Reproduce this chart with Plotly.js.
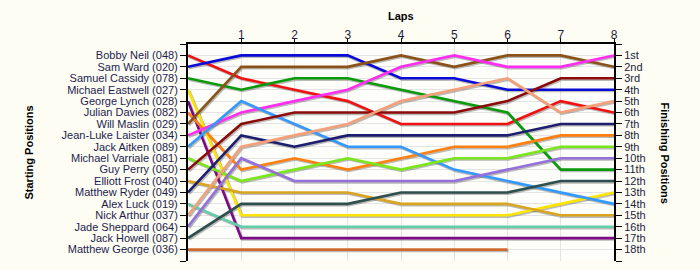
<!DOCTYPE html>
<html>
<head>
<meta charset="utf-8">
<script src="https://cdn.plot.ly/plotly-3.0.1.min.js"></script>
<style>
  html, body { margin: 0; padding: 0; background: #fdfdf3; }
  #chart { width: 700px; height: 270px; }
</style>
</head>
<body>
<div id="chart"></div>
<script>
// Lap numbers (0 = grid / starting position)
const laps = [0, 1, 2, 3, 4, 5, 6, 7, 8];

// Drivers in starting order
const drivers = [
  'Bobby Neil (048)', 'Sam Ward (020)', 'Samuel Cassidy (078)', 'Michael Eastwell (027)',
  'George Lynch (028)', 'Julian Davies (082)', 'Will Maslin (029)', 'Jean-Luke Laister (034)',
  'Jack Aitken (089)', 'Michael Varriale (081)', 'Guy Perry (050)', 'Elliott Frost (040)',
  'Matthew Ryder (049)', 'Alex Luck (019)', 'Nick Arthur (037)', 'Jade Sheppard (064)',
  'Jack Howell (087)', 'Matthew George (036)'
];

const finishLabels = ['1st', '2nd', '3rd', '4th', '5th', '6th', '7th', '8th', '9th',
  '10th', '11th', '12th', '13th', '14th', '15th', '16th', '17th', '18th'];

// Running position at the end of each lap
const bobbyNeil       = [1, 3, 4, 5, 7, 7, 7, 5, 6];
const samWard         = [2, 1, 1, 1, 3, 3, 4, 4, 4];
const samuelCassidy   = [3, 4, 3, 3, 4, 5, 6, 11, 11];
const michaelEastwell = [4, 15, 15, 15, 15, 15, 15, 14, 13];
const georgeLynch     = [5, 17, 17, 17, 17, 17, 17, 17, 17];
const julianDavies    = [6, 11, 10, 11, 10, 9, 9, 8, 8];
const willMaslin      = [7, 2, 2, 2, 1, 2, 1, 1, 2];
const jeanLukeLaister = [8, 6, 5, 4, 2, 1, 2, 2, 1];
const jackAitken      = [9, 5, 7, 9, 9, 11, 12, 13, 14];
const michaelVarriale = [10, 12, 11, 10, 11, 10, 10, 9, 9];
const guyPerry        = [11, 7, 6, 6, 6, 6, 5, 3, 3];
const elliottFrost    = [12, 13, 13, 13, 14, 14, 14, 15, 15];
const matthewRyder    = [13, 8, 9, 8, 8, 8, 8, 7, 7];
const alexLuck        = [14, 16, 16, 16, 16, 16, 16, 16, 16];
const nickArthur      = [15, 9, 8, 7, 5, 4, 3, 6, 5];
const jadeSheppard    = [16, 10, 12, 12, 12, 12, 11, 10, 10];
const jackHowell      = [17, 14, 14, 14, 13, 13, 13, 12, 12];
const matthewGeorge   = [18, 18, 18, 18, 18, 18, 18];   // retired after lap 6

const positions = [
  bobbyNeil, samWard, samuelCassidy, michaelEastwell, georgeLynch, julianDavies,
  willMaslin, jeanLukeLaister, jackAitken, michaelVarriale, guyPerry, elliottFrost,
  matthewRyder, alexLuck, nickArthur, jadeSheppard, jackHowell, matthewGeorge
];

const lineColors = [
  '#f01212', '#0a0ad8', '#0b9a0b', '#ffe600', '#7c0a86', '#ff8010',
  '#8a5218', '#ff2ef0', '#3399ff', '#7ae61c', '#8b0a0a', '#d9a520',
  '#1e1e70', '#66cdaa', '#f4a07a', '#9370db', '#2f4f4f', '#d06a2c'
];

const labelFont = { family: 'Liberation Sans, Arial, sans-serif', size: 11, color: '#1c1c50' };
const titleFont = { family: 'Liberation Sans, Arial, sans-serif', size: 11, color: '#000000', weight: 'bold' };

const traces = [];
// soft drop shadow under each line (offset by about one pixel)
positions.forEach((pos, i) => {
  traces.push({
    x: laps.slice(0, pos.length).map(v => v + 0.02),
    y: pos.map(v => v + 0.1),
    xaxis: 'x', yaxis: 'y',
    mode: 'lines',
    line: { color: 'rgba(60,60,60,0.35)', width: 3 },
    hoverinfo: 'skip', showlegend: false
  });
});
// driver lines
positions.forEach((pos, i) => {
  traces.push({
    x: laps.slice(0, pos.length),
    y: pos,
    xaxis: 'x', yaxis: 'y2',
    mode: 'lines',
    name: drivers[i],
    line: { color: lineColors[i], width: 2.6 },
    showlegend: false
  });
});

const posTicks = Array.from({ length: 20 }, (_, k) => k);

const layout = {
  width: 700, height: 270,
  margin: { l: 188, r: 86, t: 44, b: 9, pad: 0 },
  paper_bgcolor: '#fdfdf3',
  plot_bgcolor: '#fdfdf9',
  showlegend: false,
  font: labelFont,
  xaxis: {
    side: 'top', range: [0, 8],
    tickvals: laps.slice(1), ticktext: laps.slice(1).map(String),
    ticks: 'outside', ticklen: 4, tickcolor: '#000', tickwidth: 1,
    ticklabelstandoff: -6,
    showline: true, linecolor: '#000', linewidth: 2,
    showgrid: true, gridcolor: '#e4e4e4', gridwidth: 1,
    zeroline: false, tickfont: { ...labelFont, color: '#1c1c40', size: 12 }
  },
  yaxis: {
    range: [19, 0],
    tickvals: posTicks, ticktext: ['', ...drivers, ''],
    ticks: 'outside', ticklen: 6, tickcolor: '#000', tickwidth: 1,
    showline: true, linecolor: '#000', linewidth: 2,
    showgrid: true, gridcolor: '#e4e4e4', gridwidth: 1,
    zeroline: false, tickfont: labelFont
  },
  yaxis2: {
    overlaying: 'y', side: 'right', anchor: 'x',
    range: [19, 0],
    tickvals: posTicks, ticktext: ['', ...finishLabels, ''],
    ticks: 'outside', ticklen: 6, tickcolor: '#000', tickwidth: 1,
    showline: true, linecolor: '#000', linewidth: 2,
    showgrid: false, zeroline: false,
    tickfont: { ...labelFont, color: '#1c1c40' }
  },
  annotations: [
    { text: 'Laps', xref: 'paper', yref: 'paper', x: 0.5, y: 1, yshift: 28,
      showarrow: false, font: titleFont, xanchor: 'center', yanchor: 'middle' },
    { text: 'Starting Positions', xref: 'paper', yref: 'paper', x: 0, xshift: -160, y: 0.5,
      textangle: -90, showarrow: false, font: titleFont, xanchor: 'center', yanchor: 'middle' },
    { text: 'Finishing Positions', xref: 'paper', yref: 'paper', x: 1, xshift: 51, y: 0.5,
      textangle: 90, showarrow: false, font: titleFont, xanchor: 'center', yanchor: 'middle' }
  ]
};

Plotly.newPlot('chart', traces, layout, { displayModeBar: false, staticPlot: true });
</script>
</body>
</html>
